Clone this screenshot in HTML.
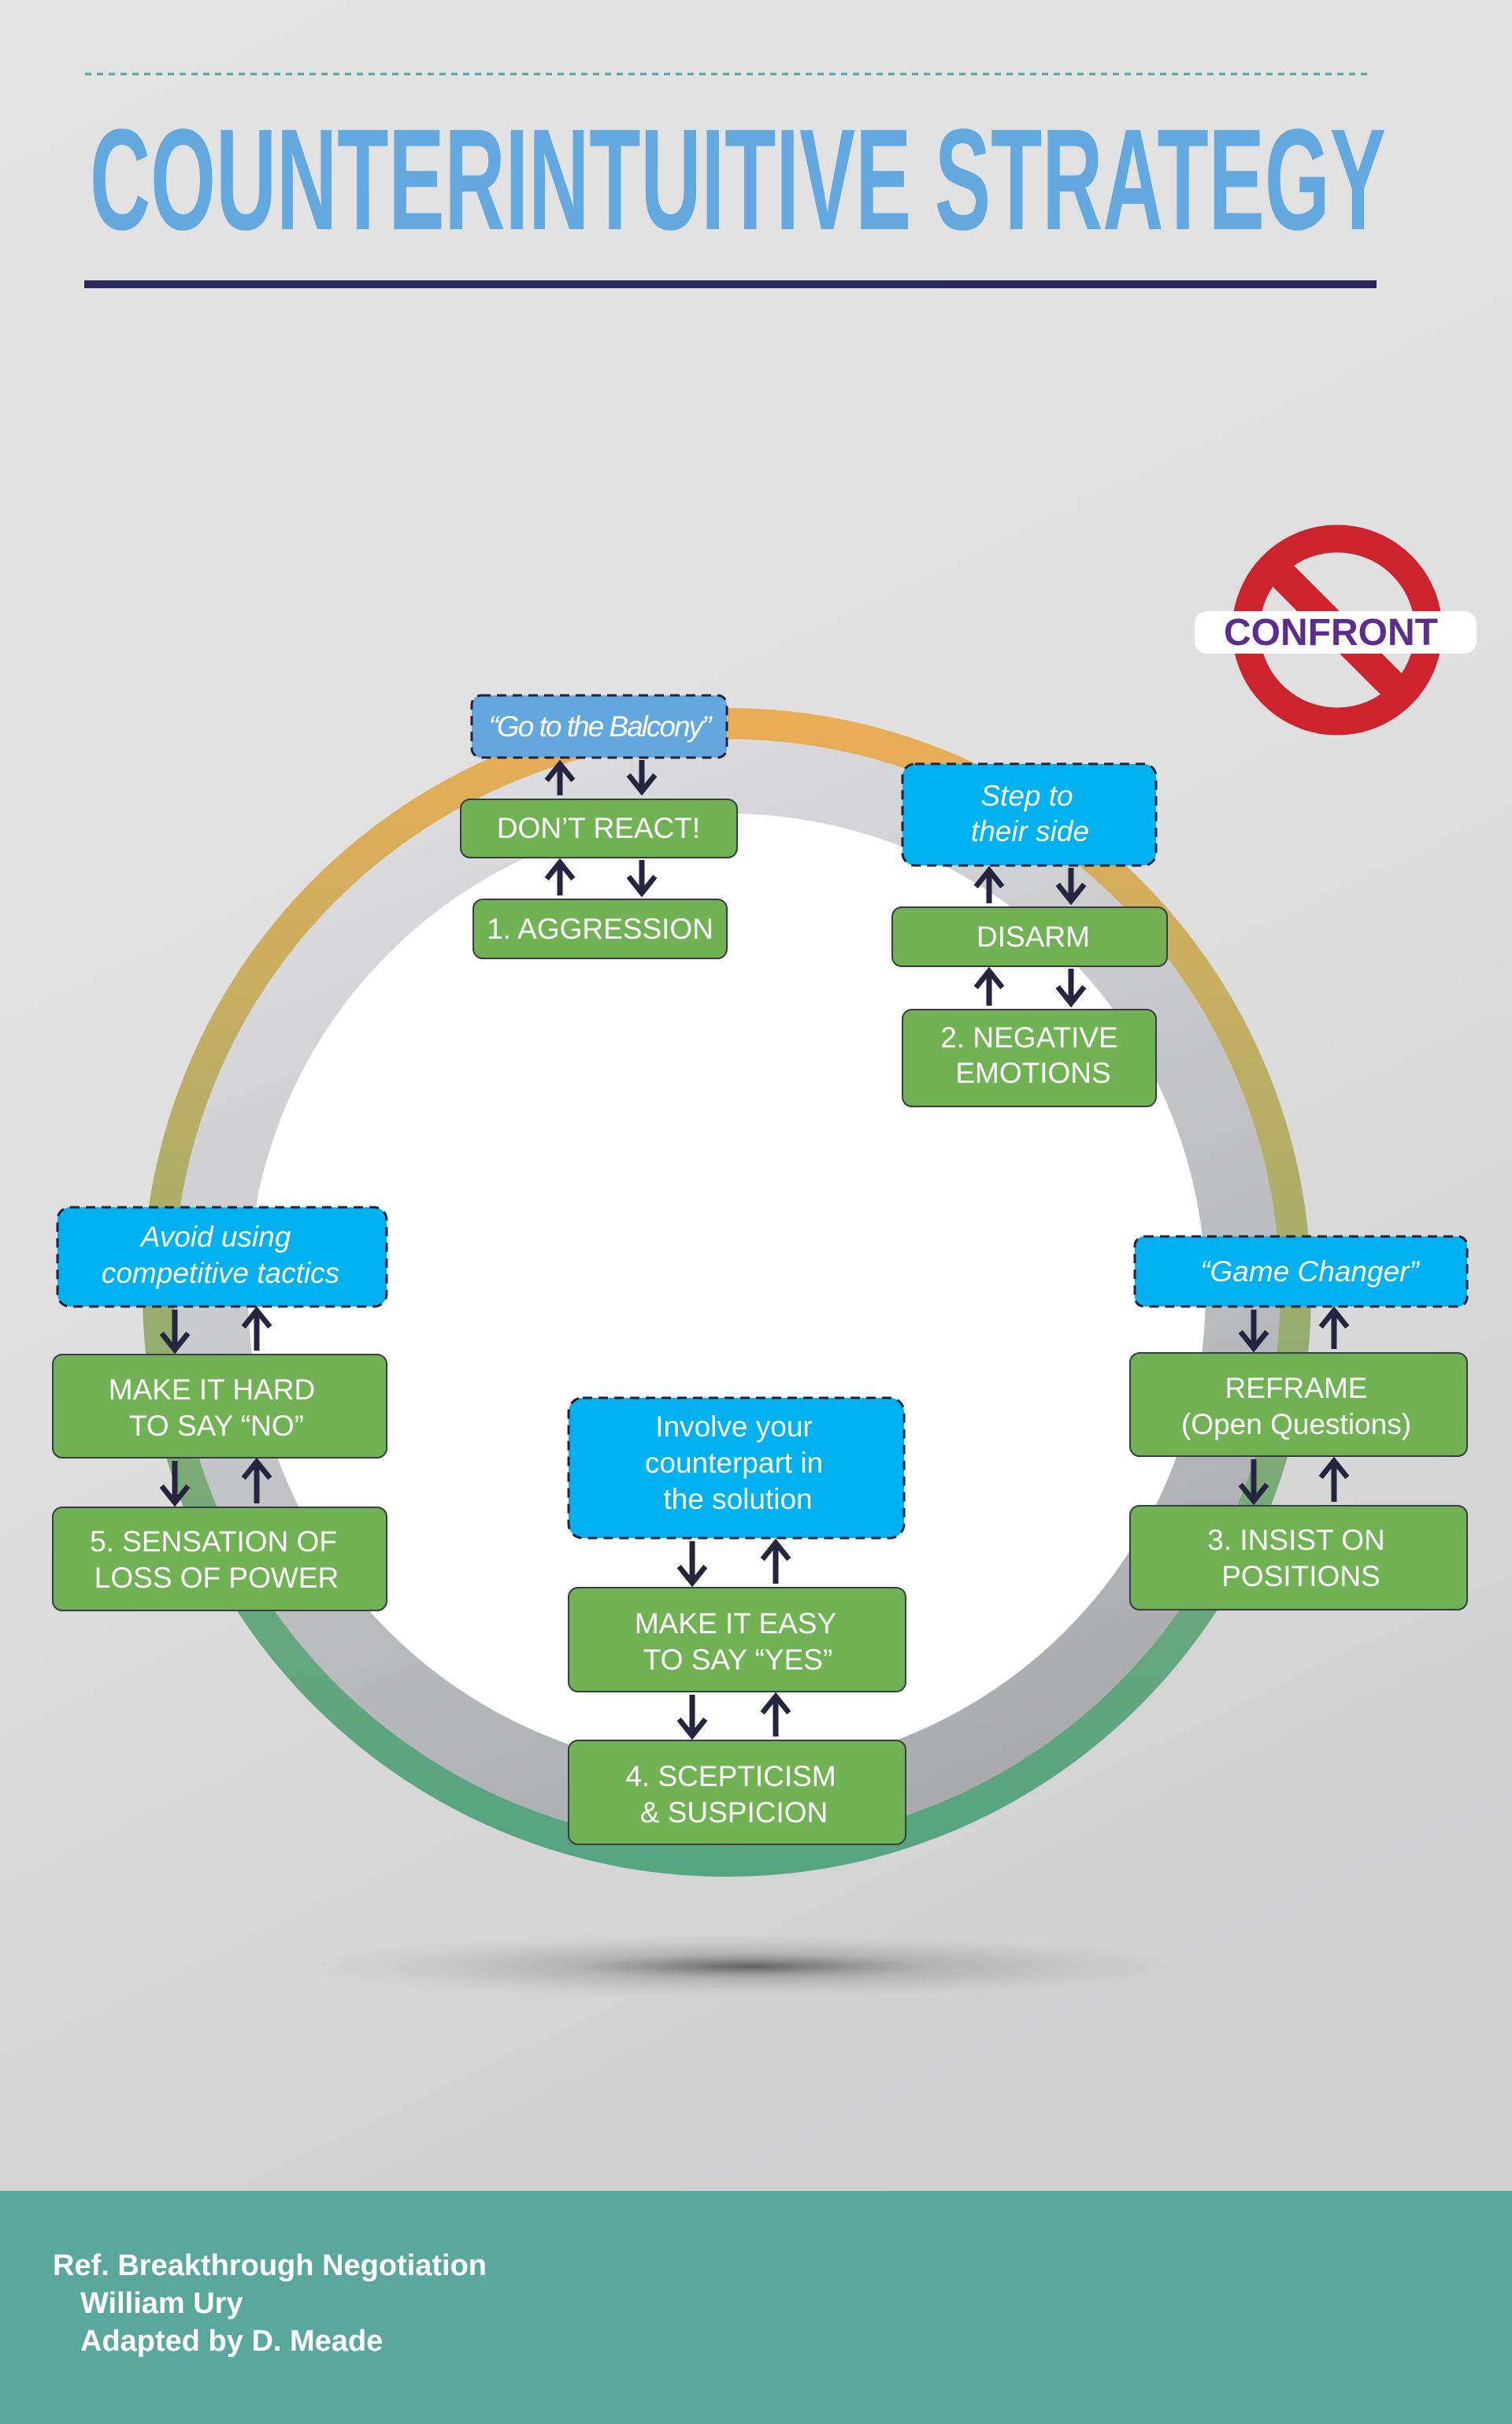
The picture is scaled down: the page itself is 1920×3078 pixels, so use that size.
<!DOCTYPE html>
<html><head><meta charset="utf-8"><style>
html,body{margin:0;padding:0;}
body{width:1920px;height:3078px;overflow:hidden;}
svg{display:block;}
</style></head><body>
<svg width="1920" height="3078" viewBox="0 0 1920 3078" xmlns="http://www.w3.org/2000/svg" font-family="Liberation Sans, sans-serif">
<defs>
<linearGradient id="bg" x1="0" y1="0" x2="0.3" y2="1">
<stop offset="0" stop-color="#e3e3e3"/><stop offset="0.5" stop-color="#e0e0e0"/><stop offset="1" stop-color="#cfcfd0"/>
</linearGradient>
<linearGradient id="ring" x1="0" y1="0" x2="0" y2="1">
<stop offset="0" stop-color="#e9ad55"/><stop offset="0.45" stop-color="#a9ae6a"/><stop offset="0.75" stop-color="#6aa87c"/><stop offset="1" stop-color="#55a482"/>
</linearGradient>
<linearGradient id="inner" x1="0.3" y1="0" x2="0.7" y2="1">
<stop offset="0" stop-color="#dcdcde"/><stop offset="1" stop-color="#a9aaae"/>
</linearGradient>
<radialGradient id="shadow" cx="0.5" cy="0.5" r="0.5">
<stop offset="0" stop-color="#444" stop-opacity="0.8"/><stop offset="0.4" stop-color="#777" stop-opacity="0.35"/><stop offset="1" stop-color="#999" stop-opacity="0"/>
</radialGradient>
<marker id="ah" viewBox="0 0 10 10" refX="6" refY="5" markerWidth="6" markerHeight="6" orient="auto-start-reverse" markerUnits="strokeWidth">
<path d="M1 1 L6 5 L1 9" fill="none" stroke="#26253f" stroke-width="1.6"/>
</marker>
</defs>
<rect width="1920" height="3078" fill="url(#bg)"/>
<line x1="108" y1="94" x2="1737" y2="94" stroke="#4aa8a0" stroke-width="3" stroke-dasharray="8,7"/>
<text x="114" y="291" font-family="Liberation Sans Narrow, Liberation Sans, sans-serif" font-weight="bold" font-size="183" fill="#63a8df" textLength="1646" lengthAdjust="spacingAndGlyphs">COUNTERINTUITIVE STRATEGY</text>
<rect x="107" y="356" width="1641" height="10" fill="#2b2660"/>
<circle cx="1698" cy="800" r="116" fill="none" stroke="#cc232c" stroke-width="35"/>
<line x1="1628" y1="730" x2="1768" y2="870" stroke="#cc232c" stroke-width="38"/>
<rect x="1517" y="776" width="358" height="54" rx="16" fill="#fff"/>
<text x="1690" y="819" font-size="48" font-weight="bold" fill="#5a2d8e" text-anchor="middle">CONFRONT</text>
<ellipse cx="952" cy="2497" rx="560" ry="40" fill="url(#shadow)"/>
<circle cx="923" cy="1641" r="722" fill="none" stroke="url(#ring)" stroke-width="40"/>
<circle cx="923" cy="1641" r="655" fill="none" stroke="url(#inner)" stroke-width="95"/>
<circle cx="923" cy="1641" r="608" fill="#ffffff"/>
<g stroke="#3a3a48" stroke-width="2">
<rect x="599" y="883" width="324" height="79" rx="12" fill="#62a8df" stroke="#22223a" stroke-width="3" stroke-dasharray="12,8"/>
<rect x="585" y="1015" width="351" height="74" rx="12" fill="#70b254"/>
<rect x="601" y="1142" width="322" height="75" rx="12" fill="#70b254"/>
<rect x="1146" y="970" width="322" height="129" rx="16" fill="#00b0ef" stroke="#22223a" stroke-width="3" stroke-dasharray="12,8"/>
<rect x="1133" y="1152" width="349" height="75" rx="12" fill="#70b254"/>
<rect x="1146" y="1282" width="322" height="123" rx="12" fill="#70b254"/>
<rect x="73" y="1533" width="418" height="126" rx="16" fill="#00b0ef" stroke="#22223a" stroke-width="3" stroke-dasharray="12,8"/>
<rect x="67" y="1720" width="424" height="131" rx="12" fill="#70b254"/>
<rect x="67" y="1914" width="424" height="131" rx="12" fill="#70b254"/>
<rect x="722" y="1775" width="426" height="178" rx="18" fill="#00b0ef" stroke="#22223a" stroke-width="3" stroke-dasharray="12,8"/>
<rect x="722" y="2016" width="428" height="132" rx="12" fill="#70b254"/>
<rect x="722" y="2210" width="428" height="132" rx="12" fill="#70b254"/>
<rect x="1441" y="1570" width="422" height="89" rx="12" fill="#00b0ef" stroke="#22223a" stroke-width="3" stroke-dasharray="12,8"/>
<rect x="1435" y="1718" width="428" height="131" rx="12" fill="#70b254"/>
<rect x="1435" y="1912" width="428" height="132" rx="12" fill="#70b254"/>
</g>
<g stroke="#26253f" stroke-width="7" fill="none" marker-end="url(#ah)">
<line x1="711" y1="1010" x2="711" y2="970"/><line x1="815" y1="965" x2="815" y2="1005"/>
<line x1="711" y1="1137" x2="711" y2="1095"/><line x1="815" y1="1092" x2="815" y2="1134"/>
<line x1="1256" y1="1147" x2="1256" y2="1105"/><line x1="1360" y1="1102" x2="1360" y2="1144"/>
<line x1="1256" y1="1277" x2="1256" y2="1233"/><line x1="1360" y1="1230" x2="1360" y2="1274"/>
<line x1="222" y1="1663" x2="222" y2="1714"/><line x1="326" y1="1715" x2="326" y2="1664"/>
<line x1="222" y1="1855" x2="222" y2="1908"/><line x1="326" y1="1909" x2="326" y2="1856"/>
<line x1="879" y1="1957" x2="879" y2="2010"/><line x1="985" y1="2011" x2="985" y2="1959"/>
<line x1="879" y1="2152" x2="879" y2="2204"/><line x1="985" y1="2205" x2="985" y2="2154"/>
<line x1="1592" y1="1663" x2="1592" y2="1712"/><line x1="1694" y1="1713" x2="1694" y2="1664"/>
<line x1="1592" y1="1853" x2="1592" y2="1906"/><line x1="1694" y1="1907" x2="1694" y2="1855"/>
</g>
<g fill="#fff" font-size="37" text-anchor="middle">
<text x="761" y="935" font-style="italic" letter-spacing="-2">“Go to the Balcony”</text>
<text x="760" y="1064">DON’T REACT!</text>
<text x="762" y="1192">1. AGGRESSION</text>
<text x="1304" y="1023" font-style="italic">Step to</text>
<text x="1308" y="1068" font-style="italic">their side</text>
<text x="1312" y="1202">DISARM</text>
<text x="1307" y="1330">2. NEGATIVE</text>
<text x="1312" y="1375">EMOTIONS</text>
<text x="274" y="1583" font-style="italic">Avoid using</text>
<text x="280" y="1629" font-style="italic">competitive tactics</text>
<text x="269" y="1777">MAKE IT HARD</text>
<text x="275" y="1823">TO SAY “NO”</text>
<text x="271" y="1970">5. SENSATION OF</text>
<text x="275" y="2016">LOSS OF POWER</text>
<text x="932" y="1824">Involve your</text>
<text x="932" y="1870">counterpart in</text>
<text x="937" y="1916">the solution</text>
<text x="934" y="2074">MAKE IT EASY</text>
<text x="937" y="2120">TO SAY “YES”</text>
<text x="928" y="2268">4. SCEPTICISM</text>
<text x="932" y="2314">&amp; SUSPICION</text>
<text x="1663" y="1627" font-style="italic">“Game Changer”</text>
<text x="1646" y="1775">REFRAME</text>
<text x="1646" y="1821">(Open Questions)</text>
<text x="1646" y="1968">3. INSIST ON</text>
<text x="1652" y="2014">POSITIONS</text>
</g>
<rect x="0" y="2782" width="1920" height="296" fill="#5aa89c"/>
<g fill="#fff" font-size="38" font-weight="bold">
<text x="67" y="2889">Ref. Breakthrough Negotiation</text>
<text x="102" y="2937">William Ury</text>
<text x="102" y="2985">Adapted by D. Meade</text>
</g>
</svg>
</body></html>
